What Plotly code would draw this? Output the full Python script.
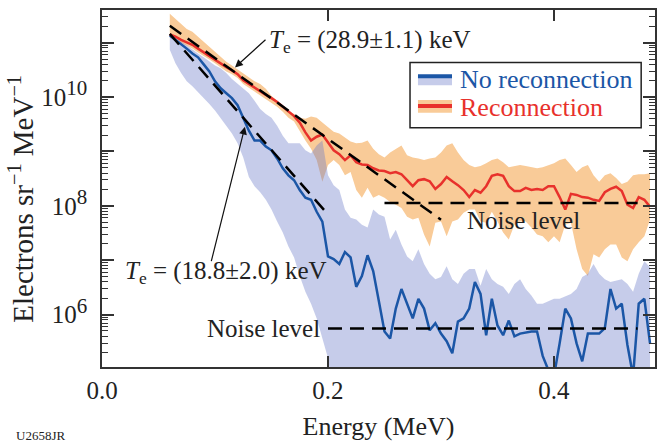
import plotly.graph_objects as go

# ---------------- data (y values stored as log10) -------------
energy = [0.060, 0.065, 0.070, 0.075, 0.080, 0.085, 0.090, 0.095, 0.100, 0.105,
          0.110, 0.115, 0.120, 0.125, 0.130, 0.135, 0.140, 0.145, 0.150, 0.155,
          0.160, 0.165, 0.170, 0.175, 0.180, 0.185, 0.190, 0.195, 0.200, 0.205,
          0.210, 0.215, 0.220, 0.225, 0.230, 0.235, 0.240, 0.245, 0.250, 0.255,
          0.260, 0.265, 0.270, 0.275, 0.280, 0.285, 0.290, 0.295, 0.300, 0.305,
          0.310, 0.315, 0.320, 0.325, 0.330, 0.335, 0.340, 0.345, 0.350, 0.355,
          0.360, 0.365, 0.370, 0.375, 0.380, 0.385, 0.390, 0.395, 0.400, 0.405,
          0.410, 0.415, 0.420, 0.425, 0.430, 0.435, 0.440, 0.445, 0.450, 0.455,
          0.460, 0.465, 0.470, 0.475, 0.480, 0.485]

recon_log10 = [11.15, 11.11, 11.05, 11.00, 10.96, 10.89, 10.82, 10.76, 10.69, 10.62,
               10.55, 10.49, 10.42, 10.31, 10.24, 10.18, 10.11, 10.04, 9.98, 9.91,
               9.82, 9.73, 9.65, 9.53, 9.35, 9.20, 9.27, 9.31, 9.16, 9.02,
               8.95, 8.84, 8.93, 8.80, 8.76, 8.75, 8.69, 8.65, 8.64, 8.60,
               8.62, 8.58, 8.47, 8.36, 8.47, 8.49, 8.45, 8.31, 8.40, 8.53,
               8.45, 8.38, 8.29, 8.16, 8.29, 8.24, 8.36, 8.55, 8.58, 8.55,
               8.36, 8.27, 8.27, 8.33, 8.29, 8.31, 8.29, 8.36, 8.36, 8.16,
               7.93, 8.22, 8.20, 8.16, 8.15, 8.11, 8.09, 8.25, 8.31, 8.35,
               8.27, 8.02, 7.96, 8.16, 8.11, 7.98]
recon_up_log10 = [11.53, 11.44, 11.35, 11.25, 11.20, 11.11, 11.02, 10.93, 10.84, 10.75,
                  10.65, 10.58, 10.51, 10.44, 10.36, 10.29, 10.24, 10.15, 10.02, 9.93,
                  9.80, 9.75, 9.69, 9.62, 9.60, 9.64, 9.62, 9.53, 9.44, 9.36,
                  9.33, 9.25, 9.18, 9.15, 9.16, 9.20, 9.05, 8.95, 8.89, 8.98,
                  9.05, 9.11, 8.93, 8.89, 8.87, 8.84, 8.87, 8.89, 8.98, 9.11,
                  9.15, 8.98, 8.84, 8.75, 8.71, 8.73, 8.78, 8.84, 8.87, 8.80,
                  8.71, 8.73, 8.75, 8.73, 8.71, 8.69, 8.71, 8.75, 8.78, 8.84,
                  8.87, 8.75, 8.62, 8.71, 8.75, 8.56, 8.44, 8.56, 8.60, 8.51,
                  8.40, 8.44, 8.56, 8.58, 8.58, 8.60]
recon_lo_log10 = [11.09, 11.05, 11.00, 10.95, 10.89, 10.82, 10.75, 10.69, 10.62, 10.55,
                  10.47, 10.42, 10.35, 10.24, 10.16, 10.09, 10.02, 9.95, 9.89, 9.82,
                  9.73, 9.62, 9.55, 9.38, 9.20, 9.05, 8.84, 8.44, 8.75, 8.84,
                  8.75, 8.56, 8.62, 8.29, 8.15, 8.33, 8.15, 8.20, 8.15, 8.07,
                  8.02, 7.96, 7.80, 7.75, 7.78, 7.47, 7.25, 7.69, 7.71, 7.44,
                  7.71, 7.75, 7.87, 7.93, 7.93, 7.71, 7.69, 7.89, 7.71, 7.51,
                  7.38, 7.65, 7.71, 7.71, 7.60, 7.47, 7.44, 7.33, 7.44, 7.33,
                  7.65, 7.69, 7.20, 6.84, 6.71, 7.11, 7.05, 7.20, 7.29, 7.29,
                  7.05, 6.98, 7.20, 7.33, 7.44, 7.75]

norecon_log10 = [11.13, 11.05, 10.98, 10.89, 10.80, 10.73, 10.60, 10.47, 10.29, 10.16,
                 10.07, 9.98, 9.85, 9.60, 9.38, 9.20, 9.20, 9.09, 9.02, 8.87,
                 8.69, 8.56, 8.47, 8.29, 8.15, 8.11, 7.89, 7.71, 7.07, 7.02,
                 6.93, 7.15, 7.05, 6.51, 6.71, 7.09, 6.80, 6.25, 5.69, 5.56,
                 6.11, 6.47, 6.20, 5.93, 6.29, 6.11, 5.71, 5.84, 5.65, 5.51,
                 5.29, 5.87, 5.93, 6.11, 6.60, 6.38, 5.62, 6.29, 5.80, 5.62,
                 5.89, 5.60, 5.65, 5.67, 5.69, 5.69, 5.24, 4.98, 4.87, 5.47,
                 6.11, 5.93, 5.47, 5.14, 5.65, 5.65, 5.65, 5.75, 6.47, 6.11,
                 6.20, 5.44, 4.87, 6.20, 6.29, 5.47]
norecon_up_log10 = [11.15, 11.09, 11.02, 10.95, 10.87, 10.80, 10.73, 10.65, 10.58, 10.53,
                    10.44, 10.33, 10.24, 10.16, 10.07, 9.93, 9.78, 9.69, 9.62, 9.47,
                    9.29, 9.15, 9.15, 9.15, 9.02, 8.96, 9.11, 9.20, 8.56, 8.38,
                    8.29, 7.93, 7.78, 7.75, 7.65, 7.60, 7.93, 7.84, 7.80, 7.38,
                    7.56, 7.29, 7.07, 6.98, 7.20, 6.93, 6.75, 6.65, 6.69, 6.89,
                    6.65, 6.56, 6.75, 6.84, 6.84, 6.53, 6.84, 6.65, 6.56, 6.51,
                    6.38, 6.56, 6.65, 6.47, 6.35, 6.20, 6.20, 6.25, 6.29, 6.29,
                    6.33, 6.38, 6.47, 6.69, 6.75, 6.93, 6.75, 6.65, 6.60, 6.62,
                    6.65, 6.56, 6.42, 6.75, 6.98, 6.87]
norecon_lo_log10 = [10.87, 10.62, 10.44, 10.29, 10.20, 10.11, 9.98, 9.87, 9.75, 9.62,
                    9.47, 9.33, 9.15, 8.89, 8.53, 8.36, 8.25, 8.11, 7.93, 7.71,
                    7.51, 7.25, 7.05, 6.71, 6.42, 6.20, 5.93, 5.56, 5.20, 4.50,
                    4.50, 4.50, 4.50, 4.50, 4.50, 4.50, 4.50, 4.50, 4.50, 4.50,
                    4.50, 4.50, 4.50, 4.50, 4.50, 4.50, 4.50, 4.50, 4.50, 4.50,
                    4.50, 4.50, 4.50, 4.50, 4.50, 4.50, 4.50, 4.50, 4.50, 4.50,
                    4.50, 4.50, 4.50, 4.50, 4.50, 4.50, 4.50, 4.50, 4.50, 4.50,
                    4.50, 4.50, 4.50, 4.50, 4.50, 4.50, 4.50, 4.50, 4.50, 4.50,
                    4.50, 4.50, 4.50, 4.50, 4.50, 4.50]

fit_recon_E = [0.06, 0.30]
fit_recon_log10 = [11.31, 7.745]
fit_norecon_E = [0.06, 0.20]
fit_norecon_log10 = [11.16, 7.84]
noise_recon_E = [0.25, 0.474]
noise_recon_log10 = [8.05, 8.05]
noise_norecon_E = [0.20, 0.474]
noise_norecon_log10 = [5.745, 5.745]

series_names = ["No reconnection", "Reconnection"]
x_tickvals = [0.0, 0.2, 0.4]
x_ticktext = ["0.0", "0.2", "0.4"]
y_decades = [5, 6, 7, 8, 9, 10, 11]
y_labelled = [6, 8, 10]


def tv(a):
    return [10 ** v for v in a]


FONT = "Liberation Serif, Times New Roman, serif"
TXT = "#222222"
BLUE = "#1b56a6"
RED = "#e8312c"
ORANGE_FILL = "rgb(249,203,152)"
BLUE_FILL = "rgba(105,120,200,0.38)"

fig = go.Figure()

fig.add_trace(go.Scatter(x=energy + energy[::-1],
                         y=tv(recon_up_log10) + tv(recon_lo_log10)[::-1],
                         fill="toself", fillcolor=ORANGE_FILL, mode="lines",
                         line=dict(width=0), showlegend=False, hoverinfo="skip"))
fig.add_trace(go.Scatter(x=energy + energy[::-1],
                         y=tv(norecon_up_log10) + tv(norecon_lo_log10)[::-1],
                         fill="toself", fillcolor=BLUE_FILL, mode="lines",
                         line=dict(width=0), showlegend=False, hoverinfo="skip"))

fig.add_trace(go.Scatter(x=energy, y=tv(recon_log10), mode="lines", name=series_names[1],
                         line=dict(color=RED, width=2.5), showlegend=False))
fig.add_trace(go.Scatter(x=energy, y=tv(norecon_log10), mode="lines", name=series_names[0],
                         line=dict(color=BLUE, width=2.5), showlegend=False))

dash = "14px,8px"
for xs, ys in [(fit_recon_E, fit_recon_log10), (fit_norecon_E, fit_norecon_log10),
               (noise_recon_E, noise_recon_log10), (noise_norecon_E, noise_norecon_log10)]:
    fig.add_trace(go.Scatter(x=xs, y=tv(ys), mode="lines",
                             line=dict(color="black", width=2.5, dash=dash),
                             showlegend=False))

minor_vals = [k * 10 ** d for d in range(5, 12) for k in range(2, 10)]

fig.update_layout(
    width=666, height=444,
    margin=dict(l=102, r=11, t=8, b=75),
    paper_bgcolor="white", plot_bgcolor="white",
    font=dict(family=FONT, size=26, color=TXT),
    showlegend=False,
    xaxis=dict(range=[0, 0.4894], tickmode="array", tickvals=x_tickvals,
               ticktext=x_ticktext, ticks="inside", ticklen=11, tickwidth=1.5,
               tickcolor="#333", showline=True, linecolor="#333", linewidth=1.5,
               mirror="ticks", showgrid=False, zeroline=False,
               ticklabelstandoff=0, tickfont=dict(size=25),
               title=dict(text="Energy (MeV)", font=dict(size=26), standoff=14)),
    yaxis=dict(type="log", range=[5.036, 11.60], tickmode="array",
               tickvals=[10 ** d for d in y_decades],
               ticktext=[f"10<sup><span style='font-size:21px'>{d}</span></sup>"
                         if d in y_labelled else "" for d in y_decades],
               ticks="inside", ticklen=12, tickwidth=1.5, tickcolor="#333",
               showline=True, linecolor="#333", linewidth=1.5, mirror="ticks",
               showgrid=False, zeroline=False, ticklabelstandoff=8,
               tickfont=dict(size=25),
               minor=dict(tickmode="array", tickvals=minor_vals, ticks="inside",
                          ticklen=6, tickwidth=1, tickcolor="#333", showgrid=False)),
)

# y-axis title as annotation (to match its vertical placement)
fig.add_annotation(x=-0.146, y=0.472, xref="paper", yref="paper",
                   text="Electrons sr<sup>−1</sup> MeV<sup>−1</sup>", textangle=-90,
                   showarrow=False, xanchor="center", yanchor="middle",
                   font=dict(family=FONT, size=29, color=TXT))

ann = [
    dict(x=0.237, y=11.02, text="<i>T</i><sub>e</sub> = (28.9±1.1) keV"),
    dict(x=0.1097, y=6.78, text="<i>T</i><sub>e</sub> = (18.8±2.0) keV"),
    dict(x=0.3726, y=7.725, text="Noise level"),
    dict(x=0.1425, y=5.745, text="Noise level"),
]
for a in ann:
    fig.add_annotation(x=a["x"], y=a["y"], xref="x", yref="y", text=a["text"],
                       showarrow=False, font=dict(family=FONT, size=25, color=TXT),
                       bgcolor="rgba(0,0,0,0)")

fig.add_annotation(x=0.1177, y=10.545, xref="x", yref="y", text="", showarrow=True,
                   ax=32, ay=-29, arrowhead=2, arrowsize=1.3, arrowwidth=1.2,
                   arrowcolor="#111", standoff=0)
fig.add_annotation(x=0.1265, y=9.455, xref="x", yref="y", text="", showarrow=True,
                   ax=-34, ay=136, arrowhead=2, arrowsize=1.3, arrowwidth=1.2,
                   arrowcolor="#111", standoff=0)

# ---- hand-built legend (box, band swatches, lines, coloured labels) ----
fig.add_shape(type="rect", xref="paper", yref="paper", x0=0.557, x1=0.975,
              y0=0.670, y1=0.853, line=dict(color="#222", width=1.5),
              fillcolor="white", layer="above")
legend_rows = [
    (series_names[0], BLUE, BLUE_FILL, 0.8144, 0.789, 0.817, 0.806),
    (series_names[1], RED, ORANGE_FILL, 0.7313, 0.712, 0.748, 0.726),
]
for name, lc, fc, ly, by0, by1, ty in legend_rows:
    fig.add_shape(type="rect", xref="paper", yref="paper", x0=0.5714, x1=0.6329,
                  y0=by0, y1=by1, line=dict(width=0), fillcolor=fc, layer="above")
    fig.add_shape(type="line", xref="paper", yref="paper", x0=0.5714, x1=0.6329,
                  y0=ly, y1=ly, line=dict(color=lc, width=4), layer="above")
    fig.add_annotation(x=0.6438, y=ty, xref="paper", yref="paper", text=name,
                       showarrow=False, xanchor="left", yanchor="middle",
                       font=dict(family=FONT, size=26, color=lc))

fig.add_annotation(x=-0.159, y=-0.166, xref="paper", yref="paper", text="U2658JR",
                   showarrow=False, xanchor="left", yanchor="top",
                   font=dict(family=FONT, size=13, color=TXT))

fig.write_html("out.html")
